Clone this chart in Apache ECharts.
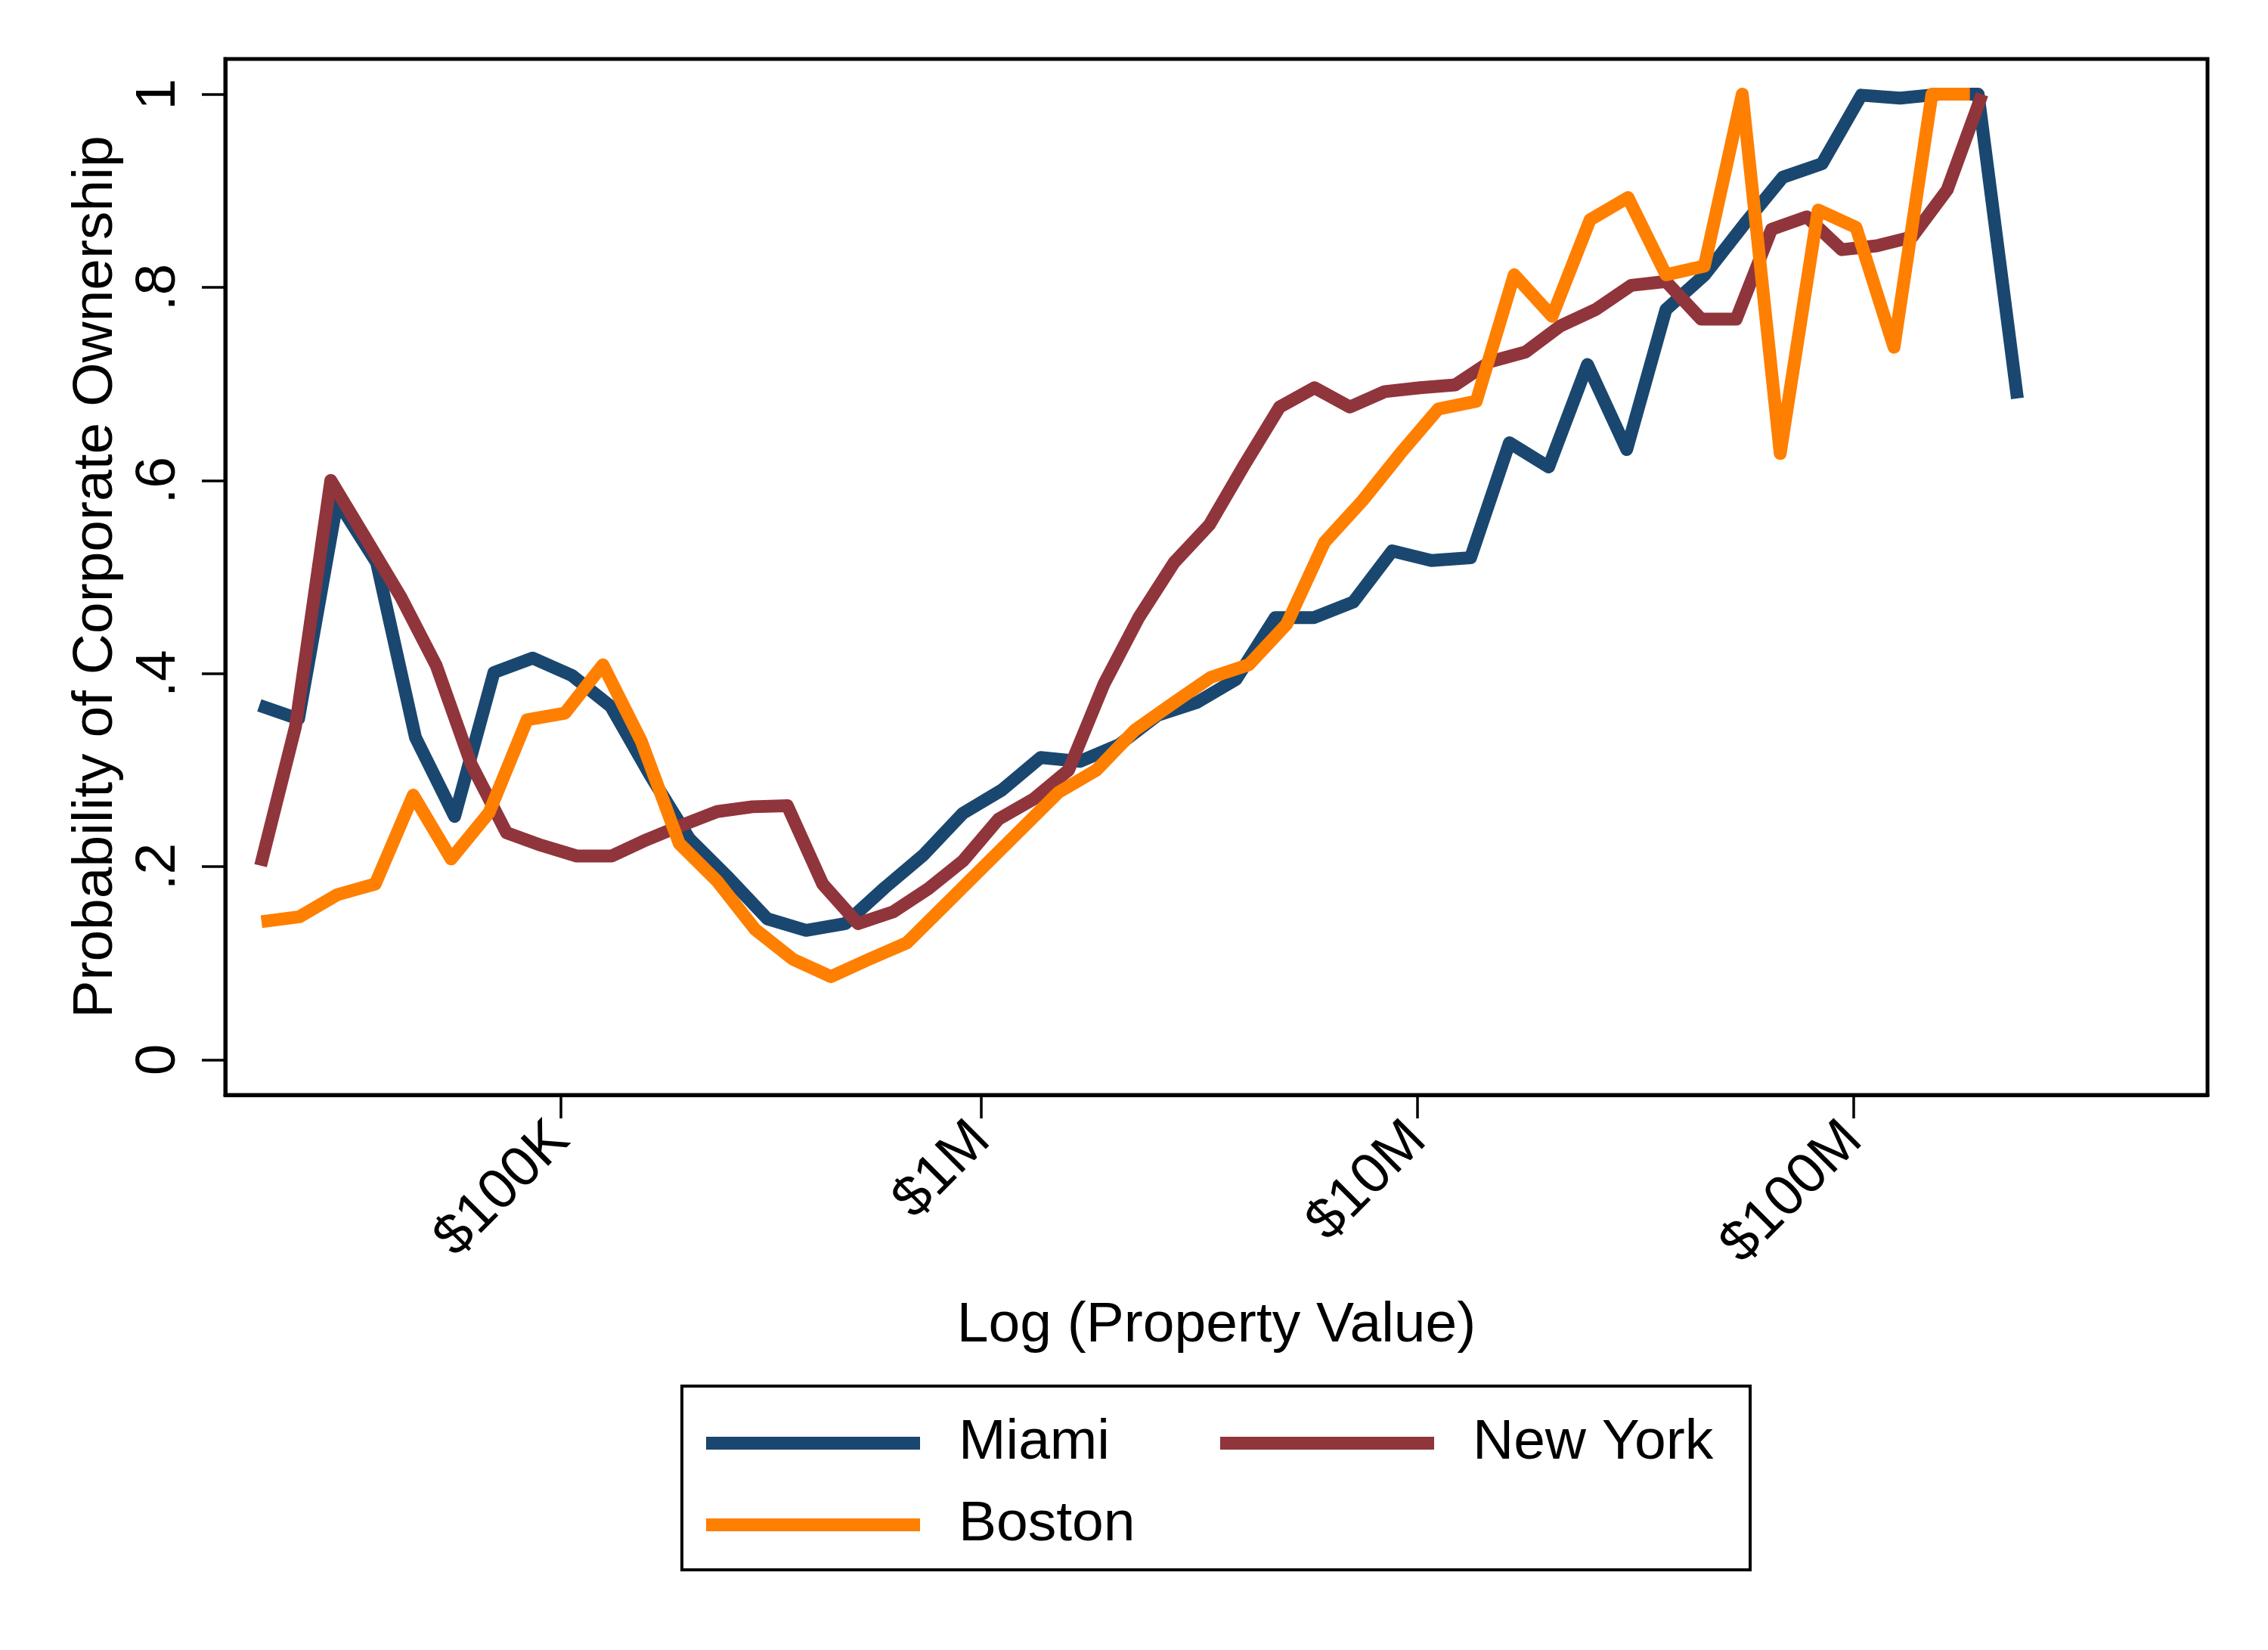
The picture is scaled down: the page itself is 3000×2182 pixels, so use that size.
<!DOCTYPE html>
<html>
<head>
<meta charset="utf-8">
<script src="https://cdn.jsdelivr.net/npm/echarts@6/dist/echarts.min.js"></script>
<style>
html,body{margin:0;padding:0;background:#fff;}
#chart{width:3000px;height:2182px;}
</style>
</head>
<body>
<div id="chart"></div>
<script>
// x values are log10(property value)
var miamiX = [4.344,4.434,4.523,4.613,4.702,4.792,4.882,4.971,5.061,5.150,5.240,5.330,5.419,5.509,5.598,5.688,5.778,5.867,5.957,6.046,6.136,6.226,6.315,6.405,6.494,6.584,6.674,6.763,6.853,6.942,7.032,7.122,7.211,7.301,7.390,7.480,7.570,7.659,7.749,7.838,7.928,8.018,8.107,8.197,8.286,8.376];
var miamiY = [0.367,0.353,0.579,0.515,0.334,0.252,0.401,0.416,0.398,0.366,0.295,0.229,0.189,0.146,0.134,0.141,0.178,0.212,0.255,0.279,0.313,0.309,0.326,0.357,0.370,0.394,0.458,0.458,0.474,0.527,0.517,0.520,0.639,0.614,0.720,0.632,0.777,0.813,0.865,0.914,0.928,0.999,0.996,1.0,1.0,0.685];

var nyX = [4.347,4.427,4.508,4.588,4.669,4.750,4.830,4.911,4.991,5.072,5.152,5.233,5.314,5.394,5.475,5.555,5.636,5.717,5.797,5.878,5.958,6.039,6.120,6.200,6.281,6.361,6.442,6.523,6.603,6.684,6.764,6.845,6.925,7.006,7.087,7.167,7.248,7.328,7.409,7.490,7.570,7.651,7.731,7.812,7.893,7.973,8.054,8.134,8.215,8.295];
var nyY = [0.201,0.345,0.600,0.540,0.479,0.408,0.306,0.235,0.222,0.211,0.211,0.228,0.243,0.257,0.262,0.263,0.182,0.141,0.153,0.177,0.206,0.249,0.270,0.300,0.389,0.458,0.515,0.554,0.616,0.676,0.696,0.676,0.692,0.696,0.699,0.723,0.733,0.760,0.777,0.802,0.806,0.767,0.767,0.860,0.873,0.839,0.843,0.852,0.901,1.0];

var bostonX = [4.349,4.436,4.523,4.610,4.697,4.784,4.871,4.958,5.045,5.132,5.220,5.307,5.394,5.481,5.568,5.655,5.742,5.829,5.916,6.003,6.090,6.177,6.264,6.351,6.439,6.526,6.613,6.700,6.787,6.874,6.961,7.048,7.135,7.222,7.309,7.396,7.483,7.570,7.658,7.745,7.832,7.919,8.006,8.093,8.180,8.267];
var bostonY = [0.143,0.148,0.171,0.182,0.274,0.208,0.256,0.352,0.359,0.409,0.330,0.224,0.185,0.135,0.104,0.086,0.104,0.121,0.160,0.199,0.238,0.277,0.300,0.341,0.369,0.396,0.409,0.451,0.536,0.579,0.628,0.674,0.682,0.813,0.770,0.870,0.893,0.813,0.822,1.0,0.628,0.880,0.862,0.738,1.0,1.0];

var xTickValues = [5.035, 6, 7, 8];
var xTickLabels = ['$100K', '$1M', '$10M', '$100M'];
var yTickValues = [0, 0.2, 0.4, 0.6, 0.8, 1];
var yTickLabels = ['0', '.2', '.4', '.6', '.8', '1'];

var seriesNames = ['Miami', 'New York', 'Boston'];
var seriesColors = ['#1a476f', '#90353b', '#ff7f00'];

function pairs(xs, ys) { return xs.map(function (x, i) { return [x, ys[i]]; }); }

var FONT = 'Liberation Sans, Arial, Helvetica, sans-serif';
var LW = 17;

var chart = echarts.init(document.getElementById('chart'), null, {renderer: 'canvas'});

function mkSeries(name, color, data) {
  return {
    name: name, type: 'line', data: data, symbol: 'none', showSymbol: false,
    color: color,
    itemStyle: {color: color},
    lineStyle: {color: color, width: LW, cap: 'butt', join: 'round'},
    emphasis: {disabled: true},
    animation: false
  };
}

function mkLegend(name, left, top) {
  return {
    data: [name], left: left, top: top, padding: 0, selectedMode: false,
    icon: 'rect', itemWidth: 283, itemHeight: 17,
    textStyle: {fontSize: 75, fontFamily: FONT, color: '#000', padding: [0, 0, 0, 46]}
  };
}

chart.setOption({
  backgroundColor: '#fff',
  animation: false,
  grid: {left: 298, top: 78, right: 80, bottom: 734, show: true, borderColor: '#000', borderWidth: 5, containLabel: false},
  xAxis: {
    type: 'value', min: 4.266, max: 8.812,
    name: 'Log (Property Value)', nameLocation: 'middle', nameGap: 268,
    nameTextStyle: {fontSize: 75, fontFamily: FONT, color: '#000'},
    axisLine: {show: true, onZero: false, lineStyle: {color: '#000', width: 5}},
    axisTick: {show: true, length: 31, lineStyle: {color: '#000', width: 3.5}, customValues: xTickValues},
    axisLabel: {
      show: true, rotate: 45, margin: 48, fontSize: 75, fontFamily: FONT, color: '#000',
      customValues: xTickValues,
      formatter: function (v) {
        for (var i = 0; i < xTickValues.length; i++) if (Math.abs(v - xTickValues[i]) < 1e-6) return xTickLabels[i];
        return '';
      }
    },
    splitLine: {show: false}
  },
  yAxis: {
    type: 'value', min: -0.0365, max: 1.0365,
    name: 'Probability of Corporate Ownership', nameLocation: 'middle', nameGap: 124, nameRotate: 90,
    nameTextStyle: {fontSize: 75, fontFamily: FONT, color: '#000'},
    axisLine: {show: true, onZero: false, lineStyle: {color: '#000', width: 5}},
    axisTick: {show: true, length: 31, lineStyle: {color: '#000', width: 3.5}, customValues: yTickValues},
    axisLabel: {
      show: true, rotate: 90, margin: 50, fontSize: 75, fontFamily: FONT, color: '#000',
      customValues: yTickValues,
      formatter: function (v) {
        for (var i = 0; i < yTickValues.length; i++) if (Math.abs(v - yTickValues[i]) < 1e-6) return yTickLabels[i];
        return '';
      }
    },
    splitLine: {show: false}
  },
  legend: [
    mkLegend(seriesNames[0], 934, 1871),
    mkLegend(seriesNames[1], 1614, 1871),
    mkLegend(seriesNames[2], 934, 1979)
  ],
  graphic: [{
    type: 'rect', shape: {x: 902, y: 1833, width: 1413, height: 243},
    style: {fill: 'none', stroke: '#000', lineWidth: 4}, silent: true
  }],
  series: [
    mkSeries(seriesNames[0], seriesColors[0], pairs(miamiX, miamiY)),
    mkSeries(seriesNames[1], seriesColors[1], pairs(nyX, nyY)),
    mkSeries(seriesNames[2], seriesColors[2], pairs(bostonX, bostonY))
  ]
});
</script>
</body>
</html>
